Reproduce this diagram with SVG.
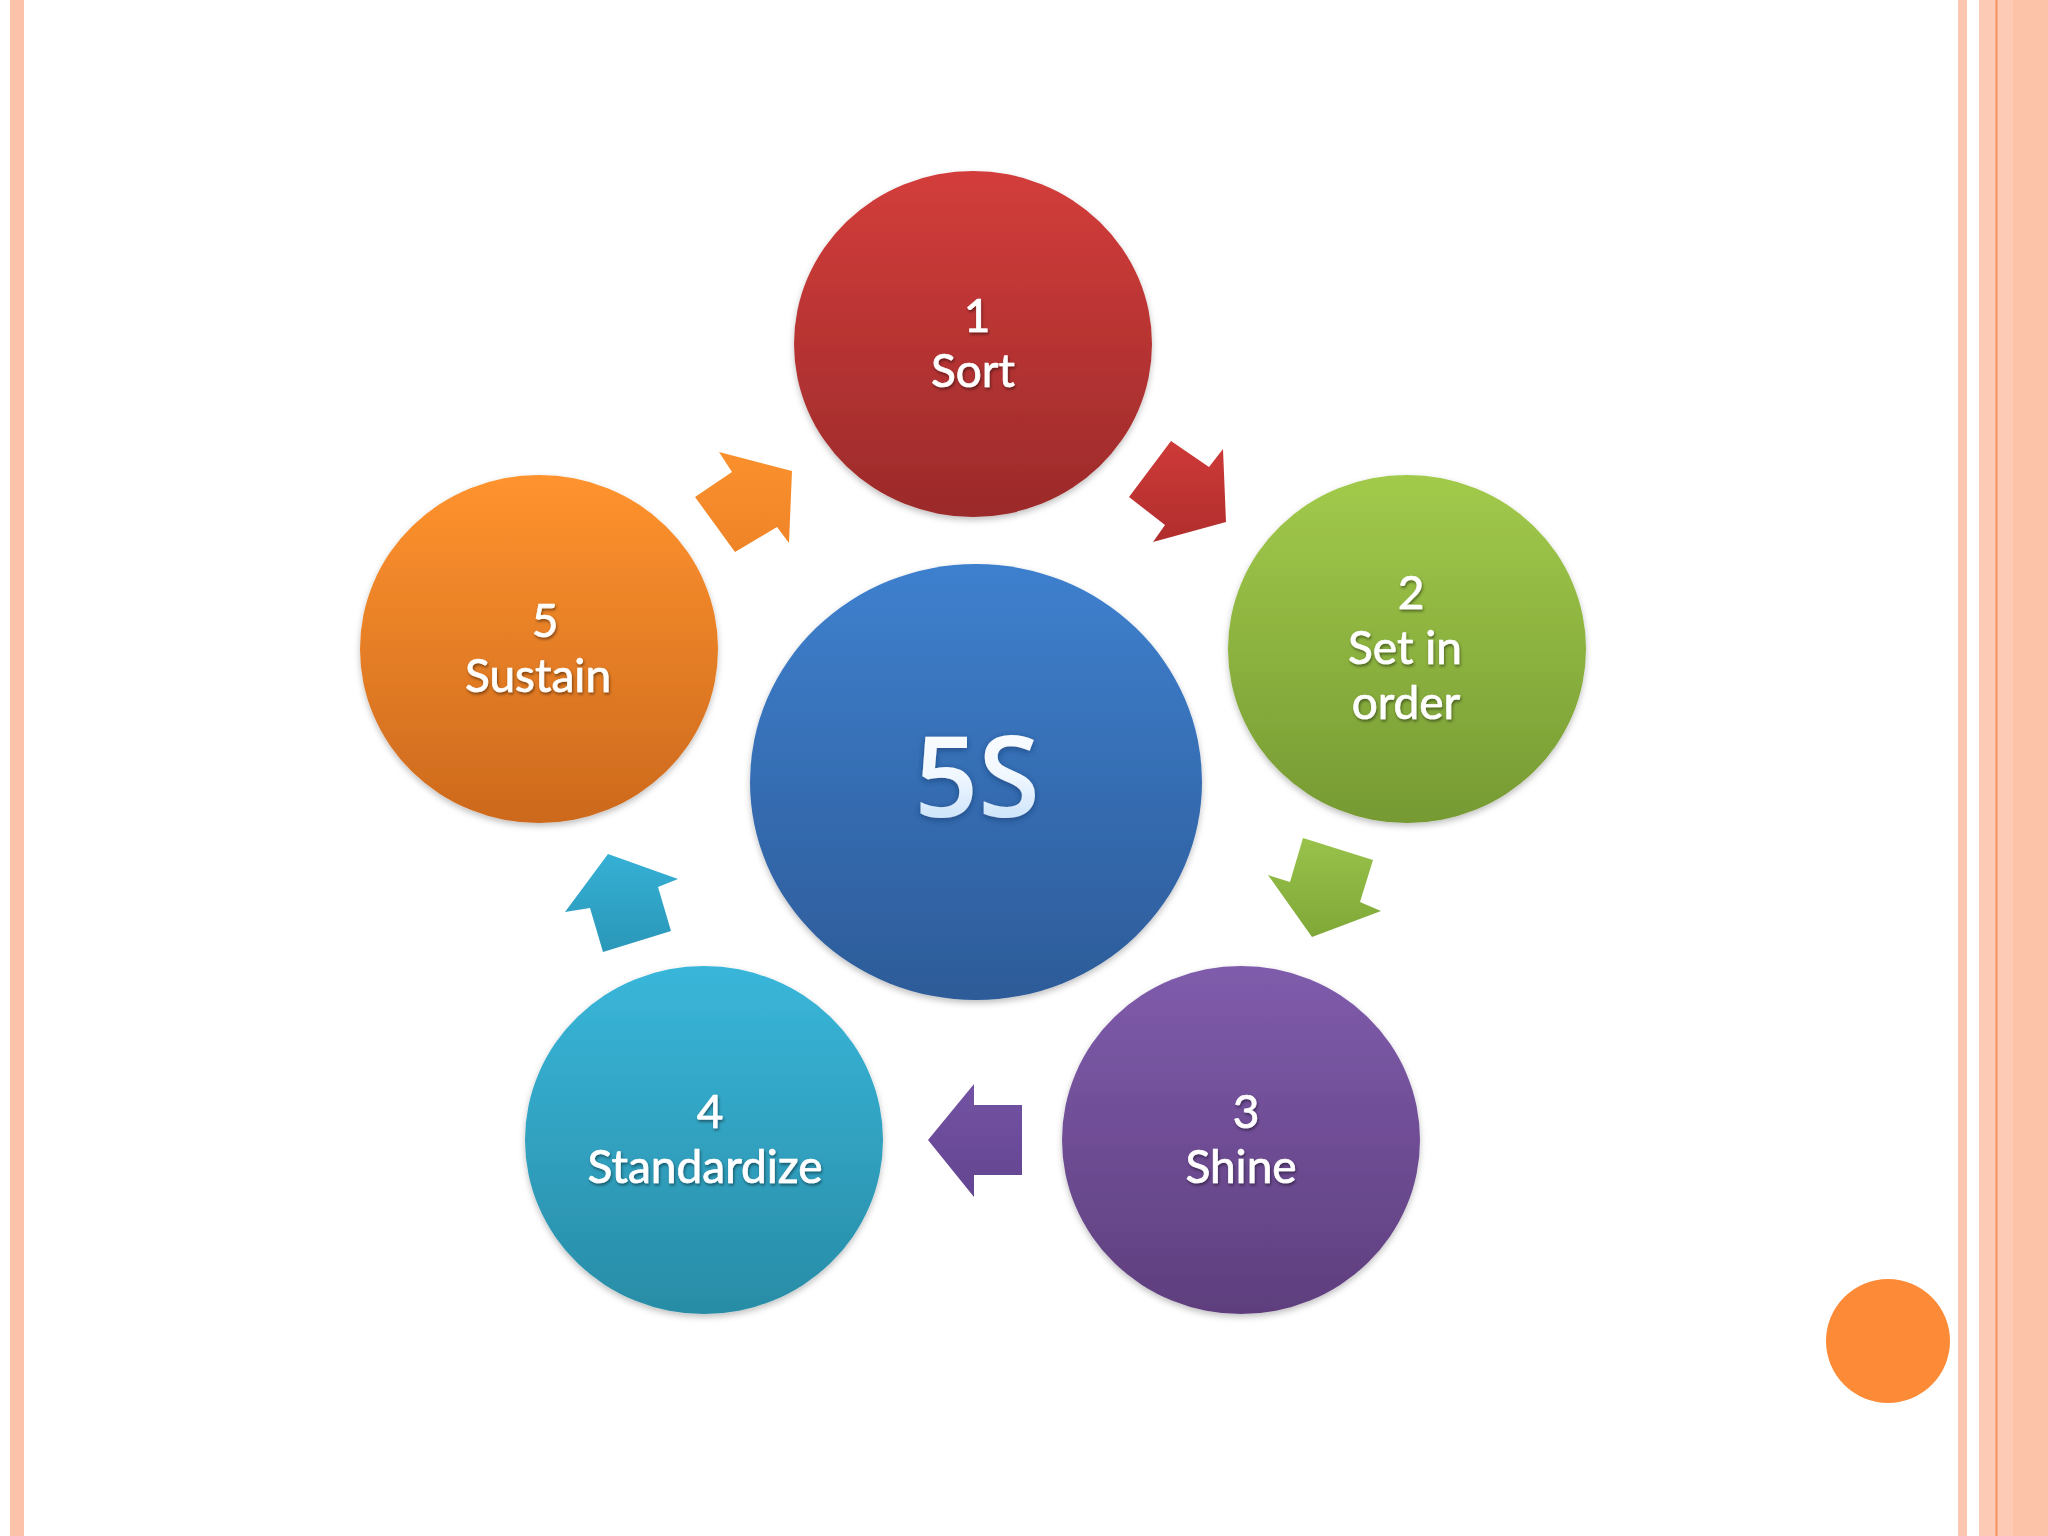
<svg xmlns="http://www.w3.org/2000/svg" width="2048" height="1536" viewBox="0 0 2048 1536">
<style>
.lbl{font-family:Lato,"Open Sans","Liberation Sans",sans-serif;font-size:46px;fill:#ffffff;stroke:#ffffff;stroke-width:0.7px;text-anchor:middle;filter:url(#ts)}
.big{font-family:"Open Sans",Lato,"Liberation Sans",sans-serif;font-size:112px;font-weight:600;fill:url(#gt);text-anchor:middle;filter:url(#glow)}
.circ{filter:url(#cs)}
</style>
<defs>
<linearGradient id="g1" x1="0" y1="0" x2="0" y2="1"><stop offset="0" stop-color="#D33D3B"/><stop offset="1" stop-color="#9B2A2A"/></linearGradient>
<linearGradient id="g2" x1="0" y1="0" x2="0" y2="1"><stop offset="0" stop-color="#A2CA4B"/><stop offset="1" stop-color="#769A33"/></linearGradient>
<linearGradient id="g3" x1="0" y1="0" x2="0" y2="1"><stop offset="0" stop-color="#7F5CAC"/><stop offset="1" stop-color="#5E3E7D"/></linearGradient>
<linearGradient id="g4" x1="0" y1="0" x2="0" y2="1"><stop offset="0" stop-color="#39B6DA"/><stop offset="1" stop-color="#288CA6"/></linearGradient>
<linearGradient id="g5" x1="0" y1="0" x2="0" y2="1"><stop offset="0" stop-color="#FF932E"/><stop offset="1" stop-color="#CC691D"/></linearGradient>
<linearGradient id="gc" x1="0" y1="0" x2="0" y2="1"><stop offset="0" stop-color="#3E80CE"/><stop offset="1" stop-color="#2D5B98"/></linearGradient>
<linearGradient id="gt" x1="0" y1="0" x2="0" y2="1"><stop offset="0" stop-color="#FFFFFF"/><stop offset="0.5" stop-color="#F2F8FF"/><stop offset="1" stop-color="#B5D7F7"/></linearGradient>
<linearGradient id="ga1" x1="0" y1="0" x2="0" y2="1"><stop offset="0" stop-color="#CE3A38"/><stop offset="1" stop-color="#B02E2D"/></linearGradient>
<linearGradient id="ga2" x1="0" y1="0" x2="0" y2="1"><stop offset="0" stop-color="#98C24A"/><stop offset="1" stop-color="#7FA838"/></linearGradient>
<linearGradient id="ga3" x1="0" y1="0" x2="0" y2="1"><stop offset="0" stop-color="#7352A3"/><stop offset="1" stop-color="#634591"/></linearGradient>
<linearGradient id="ga4" x1="0" y1="0" x2="0" y2="1"><stop offset="0" stop-color="#35B0D5"/><stop offset="1" stop-color="#2A97B8"/></linearGradient>
<linearGradient id="ga5" x1="0" y1="0" x2="0" y2="1"><stop offset="0" stop-color="#FA902D"/><stop offset="1" stop-color="#EE8426"/></linearGradient>
<filter id="ts" x="-20%" y="-40%" width="140%" height="180%"><feDropShadow dx="1" dy="2" stdDeviation="1.5" flood-color="#000000" flood-opacity="0.45"/></filter>
<filter id="glow" x="-20%" y="-20%" width="140%" height="140%"><feDropShadow dx="0" dy="2" stdDeviation="3" flood-color="#12305E" flood-opacity="0.55"/></filter>
<filter id="cs" x="-10%" y="-10%" width="120%" height="125%"><feDropShadow dx="0" dy="3" stdDeviation="3" flood-color="#000000" flood-opacity="0.25"/></filter>
</defs>
<rect x="0" y="0" width="2048" height="1536" fill="#FFFFFF"/>
<g id="border">
<rect x="10" y="0" width="14" height="1536" fill="#FDC3AA"/>
<rect x="1958" y="0" width="9" height="1536" fill="#FDC6B0"/>
<rect x="1979" y="0" width="69" height="1536" fill="#FDCBB5"/>
<rect x="2013" y="0" width="35" height="1536" fill="#FCC3A9"/>
<rect x="1995.5" y="0" width="2" height="1536" fill="#F7935C"/>
<circle cx="1888" cy="1341" r="62" fill="#FD8A36"/>
</g>
<g id="connectors">
<polygon id="arrow-1-2" points="1171,441 1209,467 1223,449 1226,522 1153,542 1165,525 1129,497" fill="url(#ga1)"/>
<polygon id="arrow-2-3" points="1303,838 1373,860 1360,902 1381,911 1312,937 1268,875 1290,882" fill="url(#ga2)"/>
<polygon id="arrow-3-4" points="928,1140 974,1084 974,1105 1022,1105 1022,1175 974,1175 974,1197" fill="url(#ga3)"/>
<polygon id="arrow-4-5" points="608,854 678,879 658,887 671,931 603,952 590,908 565,912" fill="url(#ga4)"/>
<polygon id="arrow-5-1" points="719,452 792,471 789,543 777,527 735,552 695,497 732,472" fill="url(#ga5)"/>
</g>
<g id="node-center">
<ellipse class="circ" cx="976" cy="782" rx="226" ry="218" fill="url(#gc)"/>
<text class="big" x="977" y="817">5S</text>
</g>
<g id="node-1">
<ellipse class="circ" cx="973" cy="344" rx="179" ry="173" fill="url(#g1)"/>
<text class="lbl" x="977" y="332">1</text>
<text class="lbl" x="973" y="387">Sort</text>
</g>
<g id="node-2">
<ellipse class="circ" cx="1407" cy="649" rx="179" ry="174" fill="url(#g2)"/>
<text class="lbl" x="1411" y="609">2</text>
<text class="lbl" x="1405" y="664">Set in</text>
<text class="lbl" x="1406" y="719">order</text>
</g>
<g id="node-3">
<ellipse class="circ" cx="1241" cy="1140" rx="179" ry="174" fill="url(#g3)"/>
<text class="lbl" x="1246" y="1128">3</text>
<text class="lbl" x="1241" y="1183">Shine</text>
</g>
<g id="node-4">
<ellipse class="circ" cx="704" cy="1140" rx="179" ry="174" fill="url(#g4)"/>
<text class="lbl" x="710" y="1128">4</text>
<text class="lbl" x="705" y="1183">Standardize</text>
</g>
<g id="node-5">
<ellipse class="circ" cx="539" cy="649" rx="179" ry="174" fill="url(#g5)"/>
<text class="lbl" x="545" y="637">5</text>
<text class="lbl" x="538" y="692">Sustain</text>
</g>
</svg>
